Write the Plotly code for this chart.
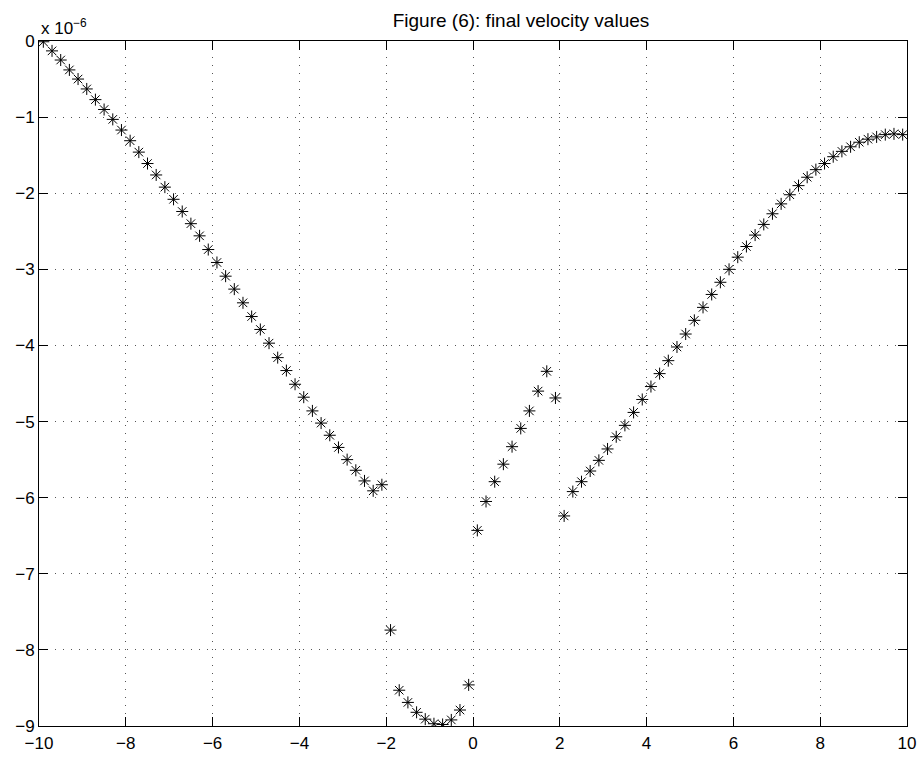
import plotly.graph_objects as go

# x positions of the samples
x_vals = [round(-9.9 + 0.2 * i, 1) for i in range(100)]

# final velocity values, in units of 1e-6
v_left = [-0.01, -0.13, -0.25, -0.38, -0.50, -0.63, -0.77, -0.90, -1.03, -1.17,
          -1.31, -1.46, -1.61, -1.76, -1.92, -2.08, -2.24, -2.40, -2.56, -2.74,
          -2.91, -3.09, -3.26, -3.44, -3.62, -3.79, -3.97, -4.16, -4.33, -4.51,
          -4.68, -4.86, -5.02, -5.18, -5.34, -5.50, -5.64, -5.78, -5.91, -5.83,
          -7.74, -8.53, -8.69, -8.82, -8.91, -8.97, -8.98, -8.92, -8.79, -8.46]
v_right = [-6.43, -6.05, -5.79, -5.56, -5.33, -5.09, -4.86, -4.60, -4.34, -4.69,
           -6.24, -5.92, -5.79, -5.65, -5.51, -5.36, -5.20, -5.05, -4.88, -4.71,
           -4.54, -4.37, -4.20, -4.02, -3.85, -3.67, -3.50, -3.33, -3.17, -3.00,
           -2.84, -2.70, -2.55, -2.41, -2.27, -2.14, -2.02, -1.90, -1.79, -1.69,
           -1.61, -1.52, -1.45, -1.39, -1.33, -1.29, -1.26, -1.23, -1.22, -1.23]
velocity = v_left + v_right

x_ticks = [-10, -8, -6, -4, -2, 0, 2, 4, 6, 8, 10]
y_ticks = [0, -1, -2, -3, -4, -5, -6, -7, -8, -9]

title_text = "Figure (6): final velocity values"
exponent_text = "x 10<sup>\u22126</sup>"

FONT = "Liberation Sans, Arial, Helvetica, sans-serif"

fig = go.Figure()
fig.add_trace(go.Scatter(
    x=x_vals, y=velocity, mode="markers",
    marker=dict(symbol="asterisk-open", size=10, color="black",
                line=dict(color="black", width=1)),
    showlegend=False,
))

axis_common = dict(
    showline=True, linecolor="black", linewidth=1, mirror="ticks",
    ticks="inside", ticklen=9, tickcolor="black", tickwidth=1,
    showgrid=True, gridcolor="#555555", gridwidth=1, griddash="1px,7px",
    zeroline=False, automargin=False,
    tickfont=dict(family=FONT, size=17, color="black"),
)

fig.update_layout(
    width=921, height=758,
    margin=dict(l=39, r=14, t=41, b=32),
    paper_bgcolor="white", plot_bgcolor="white",
    title=dict(text=title_text, x=521 / 921, xanchor="center", xref="container",
               y=1 - 20 / 758, yanchor="middle", yref="container",
               font=dict(family=FONT, size=19, color="black")),
    xaxis=dict(range=[-10, 10], tickvals=x_ticks, ticklabelstandoff=2,
               **axis_common),
    yaxis=dict(range=[-9, 0], tickvals=y_ticks, **axis_common),
    annotations=[dict(text=exponent_text, xref="paper", yref="paper",
                      x=0, y=1, xanchor="left", yanchor="bottom", yshift=1,
                      showarrow=False,
                      font=dict(family=FONT, size=17, color="black"))],
)

fig.write_html("out.html",
               config={"displayModeBar": False},
               post_script="document.body.style.margin='0px';"
                           "document.body.style.overflow='hidden';")
